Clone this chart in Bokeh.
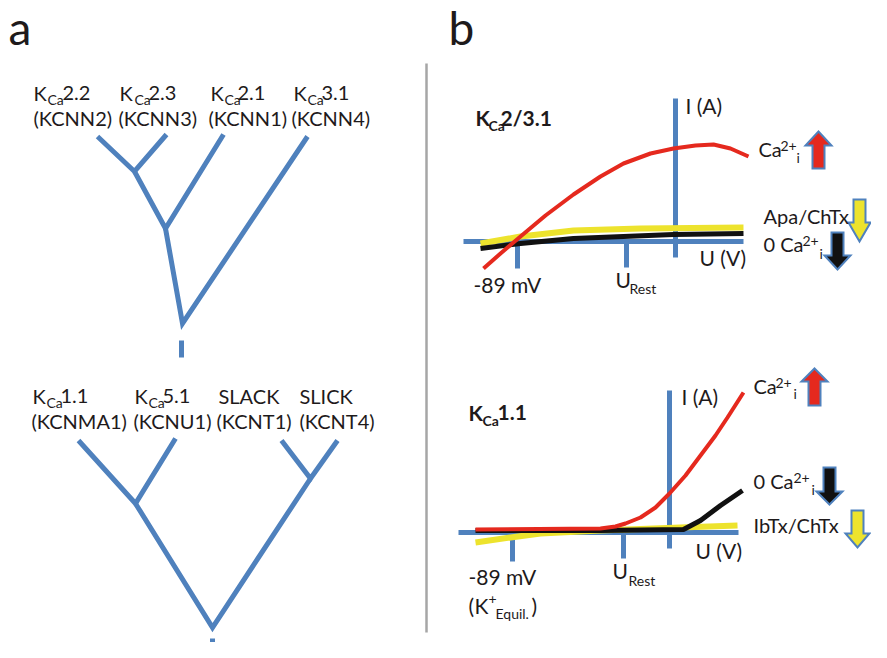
from bokeh.plotting import figure
from bokeh.models import Range1d, ColumnDataSource
from bokeh.core.properties import value
from bokeh.embed import file_html
from bokeh.resources import INLINE

# ---------------- data ----------------
panel_letters = ["a", "b"]

# dendrogram a (top): leaves, internal nodes, branches
tree1_subfam = ["2.2", "2.3", "2.1", "3.1"]
tree1_genes = ["(KCNN2)", "(KCNN3)", "(KCNN1)", "(KCNN4)"]
tree1_nodes = {"KCNN2": (97, 136), "KCNN3": (166, 134), "KCNN1": (223, 134), "KCNN4": (307, 136),
               "A": (134, 171), "B": (165, 228), "C": (182, 323)}
tree1_paths = [["KCNN2", "A", "KCNN3"], ["A", "B", "KCNN1"], ["B", "C", "KCNN4"]]
tree1_stub = [(181, 340), (181, 357)]

# dendrogram a (bottom)
tree2_names = ["1.1", "5.1", "SLACK", "SLICK"]
tree2_genes = ["(KCNMA1)", "(KCNU1)", "(KCNT1)", "(KCNT4)"]
tree2_nodes = {"KCNMA1": (78, 440), "KCNU1": (175, 438), "KCNT1": (281, 440), "KCNT4": (337, 440),
               "D": (135, 503), "F": (310, 478), "E": (212, 627)}
tree2_paths = [["KCNMA1", "D", "KCNU1"], ["KCNT1", "F", "KCNT4"], ["D", "E", "F"]]
tree2_stub = [(212, 638), (212, 662)]

# I-V schematic, KCa2/3.1 (top)
top_red_u = [483, 500, 520, 545, 573, 600, 623, 650, 673, 695, 713, 730, 748]
top_red_i = [268, 253, 236, 215, 194, 176, 163, 153, 148, 145, 144, 148, 156]
top_yel_u = [480, 520, 573, 640, 743]
top_yel_i = [243, 236, 230, 228, 227]
top_blk_u = [480, 520, 573, 673, 743]
top_blk_i = [248, 243, 238, 234, 233]

# I-V schematic, KCa1.1 (bottom)
bot_red_u = [475, 600, 615, 625, 640, 655, 669, 685, 700, 715, 727, 743]
bot_red_i = [529, 528, 526, 523, 517, 507, 493, 475, 455, 435, 417, 392]
bot_yel_u = [475, 510, 540, 600, 680, 737]
bot_yel_i = [542, 537, 533, 530, 527, 525]
bot_blk_u = [475, 600, 683, 700, 720, 742]
bot_blk_i = [530, 530, 529, 520, 505, 490]

BLUE = "#4F81BD"
RED = "#E5291E"
YEL = "#EDE32D"
BLK = "#111111"
TXT = "#1E1A1B"
FONT = "Lato"

W, H = 871, 642
p = figure(width=W, height=H, x_range=Range1d(0, W), y_range=Range1d(H, 0),
           output_backend="svg", toolbar_location=None, min_border=0,
           x_axis_type=None, y_axis_type=None)
p.grid.visible = False
p.outline_line_color = None
p.background_fill_color = "white"

# separator
p.line([426, 426], [63, 632], line_color="#A6A6A6", line_width=2.5)

# trees
for nodes, paths, stub in [(tree1_nodes, tree1_paths, tree1_stub), (tree2_nodes, tree2_paths, tree2_stub)]:
    xs = [[nodes[n][0] for n in path] for path in paths]
    ys = [[nodes[n][1] for n in path] for path in paths]
    p.multi_line(xs, ys, line_color=BLUE, line_width=5, line_join="miter", line_cap="butt")
    p.line([stub[0][0], stub[1][0]], [stub[0][1], stub[1][1]], line_color=BLUE, line_width=5)

# IV axes
axes_h = [((463, 241), (743, 241)), ((458, 532), (738, 532))]
axes_v = [((675, 98), (675, 257)), ((669, 390), (669, 548))]
ticks = [((517, 241), (517, 268)), ((626, 241), (626, 267)),
         ((512, 532), (512, 561)), ((623, 532), (623, 558))]
allseg = axes_h + axes_v + ticks
p.segment([s[0][0] for s in allseg], [s[0][1] for s in allseg],
          [s[1][0] for s in allseg], [s[1][1] for s in allseg], line_color=BLUE, line_width=5)

# curves
p.line(top_yel_u, top_yel_i, line_color=YEL, line_width=6)
p.line(top_blk_u, top_blk_i, line_color=BLK, line_width=5)
p.line(top_red_u, top_red_i, line_color=RED, line_width=4)
p.line(bot_yel_u, bot_yel_i, line_color=YEL, line_width=6)
p.line(bot_blk_u, bot_blk_i, line_color=BLK, line_width=5)
p.line(bot_red_u, bot_red_i, line_color=RED, line_width=4)

# block arrows
def arrow(cx, y_tail, y_shoulder, y_tip, hw=13, sw=6):
    xs = [cx - sw, cx + sw, cx + sw, cx + hw, cx, cx - hw, cx - sw]
    ys = [y_tail, y_tail, y_shoulder, y_shoulder, y_tip, y_shoulder, y_shoulder]
    return xs, ys

arrows = [(818, 168, 145, 131, RED, 13, 6), (859, 199, 222, 241, YEL, 11, 6), (837, 232, 255, 269, BLK, 13, 6),
          (814, 405, 381, 368, RED, 13, 6), (829, 467, 491, 504, BLK, 13, 6), (857, 510, 533, 547, YEL, 12, 6)]
axs, ays, acol = [], [], []
for cx, a, b, c, col, hw, sw in arrows:
    xs, ys = arrow(cx, a, b, c, hw, sw)
    axs.append(xs); ays.append(ys); acol.append(col)
p.patches(axs, ays, fill_color=acol, line_color=BLUE, line_width=2, line_join="miter")

# texts: (text, x, y_baseline, size, bold)
T = []
T.append((panel_letters[0], 8, 45, 46, False))
T.append((panel_letters[1], 448, 45, 46, False))

t1x = [(33, 47, 62), (119, 134, 148), (210, 224, 237), (293, 307, 321)]
t1g = [33, 118, 208, 291]
for (kx, cx_, nx), nm, gx, g in zip(t1x, tree1_subfam, t1g, tree1_genes):
    T += [("K", kx, 100, 20, False), ("Ca", cx_, 104, 14, False), (nm, nx, 100, 20, False), (g, gx, 125, 20, False)]

t2x = [(32, 46, 60), (134, 148, 162)]
for (kx, cx_, nx), nm in zip(t2x, tree2_names[:2]):
    T += [("K", kx, 403, 20, False), ("Ca", cx_, 407, 14, False), (nm, nx, 403, 20, False)]
T += [(tree2_names[2], 218, 403, 20, False), (tree2_names[3], 299, 403, 20, False)]
for g, gx in zip(tree2_genes, [31, 133, 216, 299]):
    T.append((g, gx, 428, 20, False))

# panel b top
T += [("K", 475, 125, 21, True), ("Ca", 488, 130, 14, True), ("2/3.1", 500, 125, 21, True),
      ("I (A)", 685, 113, 21, False), ("U (V)", 699, 265, 21, False), ("-89 mV", 473, 292, 21, False),
      ("U", 615, 287, 21, False), ("Rest", 629, 293, 14, False),
      ("Ca", 758, 156, 20, False), ("2+", 780, 151, 14, False), ("i", 796, 162, 14, False),
      ("Apa/ChTx", 763, 223, 20, False),
      ("0 Ca", 763, 251, 20, False), ("2+", 802, 246, 14, False), ("i", 819, 258, 14, False)]
# panel b bottom
T += [("K", 468, 420, 21, True), ("Ca", 482, 425, 14, True), ("1.1", 497, 420, 21, True),
      ("I (A)", 681, 404, 21, False), ("U (V)", 695, 558, 21, False), ("-89 mV", 468, 584, 21, False),
      ("(", 468, 613, 21, False), ("K", 474, 613, 21, False), ("+", 488, 604, 14, False),
      ("Equil.", 495, 618, 14, False), (")", 531, 613, 21, False),
      ("U", 612, 578, 21, False), ("Rest", 628, 585, 14, False),
      ("Ca", 753, 393, 20, False), ("2+", 775, 388, 14, False), ("i", 793, 398, 14, False),
      ("0 Ca", 753, 488, 20, False), ("2+", 793, 483, 14, False), ("i", 811, 494, 14, False),
      ("IbTx/ChTx", 753, 532, 20, False)]

BASE_SHIFT = 0.387  # baseline correction of the rendered text
groups = {}
for t, x, y, s, b in T:
    groups.setdefault((s, b), {"x": [], "y": [], "text": []})
    g = groups[(s, b)]
    g["x"].append(x); g["y"].append(y - BASE_SHIFT * s); g["text"].append(t)
for (s, b), d in groups.items():
    p.text("x", "y", "text", source=ColumnDataSource(d), text_font=value(FONT),
           text_font_size=f"{s}px", text_font_style="bold" if b else "normal",
           text_color=TXT, text_align="left", text_baseline="alphabetic")

open("out.html", "w").write(file_html(p, INLINE))
